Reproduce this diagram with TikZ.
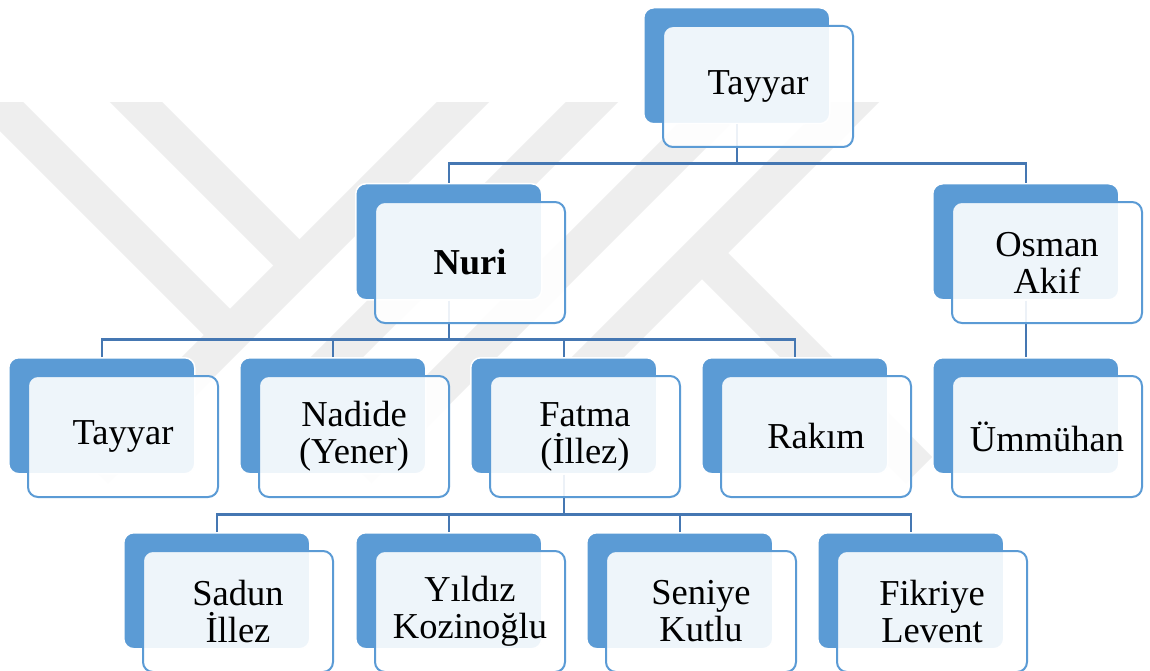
\documentclass[tikz,border=0pt]{standalone}
\usepackage{fontspec}
\setmainfont{Liberation Serif}
\definecolor{boxblue}{RGB}{91,155,213}
\definecolor{linkblue}{RGB}{69,119,178}
\definecolor{wmgray}{RGB}{238,238,238}
\begin{document}
\begin{tikzpicture}[x=1pt,y=-1pt,
  backbox/.style={fill=boxblue, draw=white, line width=1.5pt, rounded corners=10pt,
    minimum width=186pt, minimum height=116pt, anchor=north west, inner sep=0pt},
  frontbox/.style={fill=white, fill opacity=0.9, text opacity=1, draw=boxblue,
    line width=2pt, rounded corners=10pt, minimum width=190pt, minimum height=121pt,
    anchor=north west, align=center, inner sep=0pt,
    font=\fontsize{36.5}{37}\selectfont},
  conn/.style={draw=linkblue, line width=2.5pt},
  wm/.style={draw=wmgray, line width=37pt, line cap=butt}]
\useasboundingbox (0,0) rectangle (1150,671);
\fill[white] (0,0) rectangle (1150,671);
% watermark
\begin{scope}
  \clip (0,103) rectangle (1150,671);
  \draw[wm] (-50,55) -- (230,335);
  \draw[wm] (97,63) -- (300,266);
  \draw[wm] (502,63) -- (95,470);
  \draw[wm] (631,63) -- (274,420);
  \draw[wm] (765,63) -- (358,470);
  \draw[wm] (892,63) -- (515,440);
  \draw[wm] (702,253) -- (919,470);
\end{scope}
% back boxes
\node[backbox] (root-b) at (643,7) {};
\node[backbox] (nuri-b) at (355,183) {};
\node[backbox] (osman-b) at (932,183) {};
\node[backbox] (tay-b) at (8,357) {};
\node[backbox] (nad-b) at (239,357) {};
\node[backbox] (fat-b) at (470,357) {};
\node[backbox] (rak-b) at (701,357) {};
\node[backbox] (umm-b) at (932,357) {};
\node[backbox] (sad-b) at (123,532) {};
\node[backbox] (yil-b) at (355,532) {};
\node[backbox] (sen-b) at (586,532) {};
\node[backbox] (fik-b) at (817,532) {};
% connectors
\path (root-b.south) ++(0,39) coordinate (bus0);
\draw[conn] (root-b.south) -- (bus0);
\draw[conn] (nuri-b.north) |- (bus0) -| (osman-b.north);
\path (nuri-b.south) ++(0,39) coordinate (bus1);
\draw[conn] (nuri-b.south) -- (bus1);
\draw[conn] (tay-b.north) |- (bus1) -| (rak-b.north);
\draw[conn] (nad-b.north) -- (bus1 -| nad-b.north);
\draw[conn] (fat-b.north) -- (bus1 -| fat-b.north);
\draw[conn] (osman-b.south) -- (umm-b.north);
\path (fat-b.south) ++(0,40) coordinate (bus2);
\draw[conn] (fat-b.south) -- (bus2);
\draw[conn] (sad-b.north) |- (bus2) -| (fik-b.north);
\draw[conn] (yil-b.north) -- (bus2 -| yil-b.north);
\draw[conn] (sen-b.north) -- (bus2 -| sen-b.north);
% front boxes
\node[frontbox] (root) at (662,25) {Tayyar};
\node[frontbox] (nuri) at (374,201) {\textbf{Nuri}};
\node[frontbox] (osman) at (951,201) {Osman\\Akif};
\node[frontbox] (tay) at (27,375) {Tayyar};
\node[frontbox] (nad) at (258,375) {Nadide\\(Yener)};
\node[frontbox] (fat) at (489,375) {Fatma\\(İllez)};
\node[frontbox] (rak) at (720,375) {Rakım};
\node[frontbox] (umm) at (951,375) {Ümmühan};
\node[frontbox] (sad) at (142,550) {Sadun\\İllez};
\node[frontbox] (yil) at (374,550) {Yıldız\\Kozinoğlu};
\node[frontbox] (sen) at (605,550) {Seniye\\Kutlu};
\node[frontbox] (fik) at (836,550) {Fikriye\\Levent};
\end{tikzpicture}
\end{document}
